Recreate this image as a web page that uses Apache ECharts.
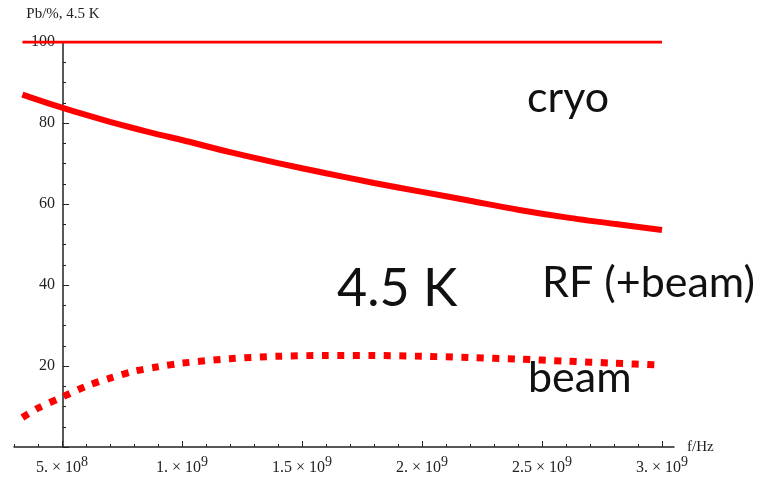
<!DOCTYPE html>
<html>
<head>
<meta charset="utf-8">
<script src="https://cdn.jsdelivr.net/npm/echarts@6/dist/echarts.min.js"></script>
<style>
html, body { margin: 0; padding: 0; background: #fff; }
#main { width: 771px; height: 481px; }
</style>
</head>
<body>
<div id="main"></div>
<script>
// frequency samples (Hz) and percentages
var freqHz = [3.35e8, 4e8, 5e8, 6e8, 7e8, 8e8, 9e8, 1e9, 1.2e9, 1.4e9, 1.6e9, 1.8e9, 2e9, 2.2e9, 2.4e9, 2.6e9, 2.8e9, 3e9];
var rfPct = [87.0, 85.7, 83.8, 82.0, 80.3, 78.7, 77.2, 75.8, 72.8, 70.1, 67.6, 65.2, 63.0, 60.8, 58.6, 56.7, 55.1, 53.6];
var beamPct = [7.3, 9.6, 12.3, 15.0, 17.0, 18.7, 19.8, 20.7, 21.8, 22.4, 22.6, 22.6, 22.4, 22.1, 21.7, 21.2, 20.7, 20.2];
var cryoFreq = [3.35e8, 3e9];
var cryoPct = [100, 100];

// tick marks / labels
var xMajorTicks = [5e8, 1e9, 1.5e9, 2e9, 2.5e9, 3e9];
var xLabelMant = ['5.', '1.', '1.5', '2.', '2.5', '3.'];
var xLabelExp = ['8', '9', '9', '9', '9', '9'];
var xMinorTicks = [3e8, 4e8, 5e8, 6e8, 7e8, 8e8, 9e8, 1e9, 1.1e9, 1.2e9, 1.3e9, 1.4e9, 1.5e9, 1.6e9, 1.7e9, 1.8e9, 1.9e9, 2e9,
                   2.1e9, 2.2e9, 2.3e9, 2.4e9, 2.5e9, 2.6e9, 2.7e9, 2.8e9, 2.9e9, 3e9];

function pairs(xs, ys) {
    return xs.map(function (x, i) { return [x, ys[i]]; });
}

var myChart = echarts.init(document.getElementById('main'));
var serif = 'Liberation Serif';
var axisCol = '#222';

var option = {
    animation: false,
    grid: { left: 14, right: 97, top: 42, bottom: 34 },
    xAxis: [{
        type: 'value',
        min: 3e8,
        max: 3.05e9,
        name: 'f/Hz',
        nameLocation: 'end',
        nameGap: 13,
        nameTextStyle: { fontFamily: serif, fontSize: 15, color: axisCol, padding: [0, 0, 4, 0] },
        axisLine: { lineStyle: { color: axisCol, width: 1.5 } },
        axisTick: { inside: true, length: 3, customValues: xMinorTicks, lineStyle: { color: axisCol } },
        axisLabel: {
            customValues: xMajorTicks,
            margin: 8,
            formatter: function (v) {
                var i = xMajorTicks.indexOf(v);
                if (i < 0) return '';
                return '{m|' + xLabelMant[i] + ' × 10}{e|' + xLabelExp[i] + '}';
            },
            rich: {
                m: { fontFamily: serif, fontSize: 16, color: axisCol },
                e: { fontFamily: serif, fontSize: 14, color: axisCol, padding: [0, 0, 12, 0] }
            }
        },
        splitLine: { show: false }
    }, {
        type: 'value',
        min: 3e8,
        max: 3.05e9,
        position: 'bottom',
        axisLine: { show: false },
        axisTick: { inside: true, length: 6, customValues: xMajorTicks, lineStyle: { color: axisCol } },
        axisLabel: { show: false },
        splitLine: { show: false }
    }],
    yAxis: {
        type: 'value',
        min: 0,
        max: 100,
        interval: 20,
        offset: -49,
        name: 'Pb/%, 4.5 K',
        nameLocation: 'end',
        nameGap: 20,
        nameTextStyle: { fontFamily: serif, fontSize: 15, color: axisCol, align: 'center' },
        axisLine: { show: true, lineStyle: { color: axisCol, width: 1.5 } },
        axisTick: { show: true, inside: true, length: 6, lineStyle: { color: axisCol } },
        minorTick: { show: true, splitNumber: 4, length: 3, lineStyle: { color: axisCol } },
        axisLabel: {
            margin: 8,
            fontFamily: serif,
            fontSize: 16,
            color: axisCol,
            formatter: function (v) { return v === 0 ? '' : String(v); }
        },
        splitLine: { show: false }
    },
    series: [{
        name: 'cryo',
        type: 'line',
        data: pairs(cryoFreq, cryoPct),
        showSymbol: false,
        lineStyle: { color: '#ff0000', width: 3 }
    }, {
        name: 'RF (+beam)',
        type: 'line',
        data: pairs(freqHz, rfPct),
        smooth: 0.3,
        showSymbol: false,
        lineStyle: { color: '#ff0000', width: 6 }
    }, {
        name: 'beam',
        type: 'line',
        data: pairs(freqHz, beamPct),
        smooth: 0.3,
        showSymbol: false,
        lineStyle: { color: '#ff0000', width: 7, type: [7, 8.5], cap: 'butt' }
    }],
    graphic: [
        { type: 'text', left: 527, top: 77, style: { text: 'cryo', font: '43px Lato', fill: '#111' } },
        { type: 'text', left: 542, top: 262, style: { text: 'RF (+beam)', font: '43px Lato', fill: '#111' } },
        { type: 'text', left: 528, top: 357, style: { text: 'beam', font: '43px Lato', fill: '#111' } },
        { type: 'text', left: 337, top: 263, style: { text: '4.5 K', font: '52px Lato', fill: '#111' } }
    ]
};

myChart.setOption(option);
</script>
</body>
</html>
